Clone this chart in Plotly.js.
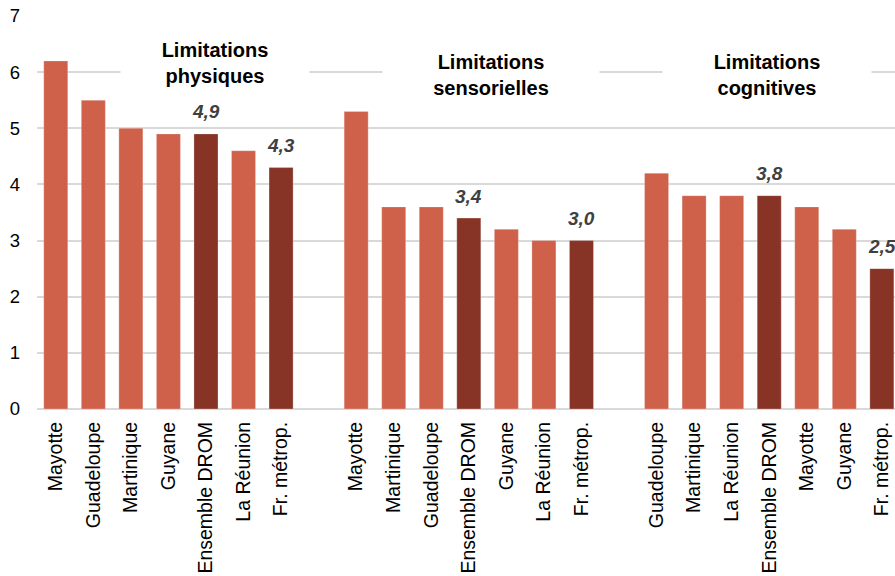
<!DOCTYPE html>
<html>
<head>
<meta charset="utf-8">
<script src="https://cdn.plot.ly/plotly-3.0.1.min.js"></script>
<style>html,body{margin:0;padding:0;background:#fff;}#chart{width:895px;height:576px;}</style>
</head>
<body>
<div id="chart"></div>
<script>
// ---- data ----
const groupTitles = ["Limitations<br>physiques", "Limitations<br>sensorielles", "Limitations<br>cognitives"];
const catsPhys = ["Mayotte", "Guadeloupe", "Martinique", "Guyane", "Ensemble DROM", "La Réunion", "Fr. métrop."];
const valsPhys = [6.2, 5.5, 5.0, 4.9, 4.9, 4.6, 4.3];
const catsSens = ["Mayotte", "Martinique", "Guadeloupe", "Ensemble DROM", "Guyane", "La Réunion", "Fr. métrop."];
const valsSens = [5.3, 3.6, 3.6, 3.4, 3.2, 3.0, 3.0];
const catsCogn = ["Guadeloupe", "Martinique", "La Réunion", "Ensemble DROM", "Mayotte", "Guyane", "Fr. métrop."];
const valsCogn = [4.2, 3.8, 3.8, 3.8, 3.6, 3.2, 2.5];
const highlighted = ["Ensemble DROM", "Fr. métrop."];

// ---- build ----
const groups = [[catsPhys, valsPhys], [catsSens, valsSens], [catsCogn, valsCogn]];
const slotsPerGroup = 8; // 7 bars + one empty slot
const xs = [], ys = [], colors = [], tickvals = [], ticktext = [], labelAnns = [];
const light = "#CF614B", dark = "#873426";
groups.forEach(([cats, vals], g) => {
  cats.forEach((c, i) => {
    const x = g * slotsPerGroup + i;
    xs.push(x); ys.push(vals[i]);
    tickvals.push(x); ticktext.push(c);
    const hl = highlighted.includes(c);
    colors.push(hl ? dark : light);
    if (hl) {
      labelAnns.push({
        x: x, y: vals[i], xref: "x", yref: "y", yshift: 22, showarrow: false,
        text: vals[i].toFixed(1).replace(".", ","),
        font: {family: "Liberation Sans, Arial, sans-serif", size: 19, color: "#404040", weight: "bold", style: "italic"}
      });
    }
  });
});

// group title boxes (layout positions)
const titleX = [4.25, 11.6, 18.95];
const titleY = [6.17, 5.95, 5.95];
const titleW = [188, 216, 208];
const titleAnns = groupTitles.map((t, g) => ({
  x: titleX[g], y: titleY[g], xref: "x", yref: "y", showarrow: false,
  text: t, bgcolor: "#ffffff", width: titleW[g], height: 56, borderpad: 0,
  font: {family: "Liberation Sans, Arial, sans-serif", size: 20, color: "#000000", weight: "bold"}
}));

const trace = {
  type: "bar", x: xs, y: ys, width: 0.64,
  marker: {color: colors, line: {width: 1, color: "rgba(255,255,255,0.25)"}}, hoverinfo: "skip"
};

const layout = {
  width: 895, height: 576,
  margin: {l: 37, r: 0, t: 16, b: 167, pad: 0},
  paper_bgcolor: "#fff", plot_bgcolor: "#fff",
  showlegend: false,
  font: {family: "Liberation Sans, Arial, sans-serif", color: "#000"},
  xaxis: {
    range: [-0.5, 22.35], tickmode: "array", tickvals: tickvals, ticktext: ticktext,
    tickangle: -90, showgrid: false, zeroline: false, showline: false, ticks: "",
    tickfont: {size: 19.5, color: "#000"}, ticklabelstandoff: 8
  },
  yaxis: {
    range: [0, 7], dtick: 1, tick0: 0, showgrid: true, gridcolor: "#d9d9d9", gridwidth: 2,
    zeroline: true, zerolinecolor: "#d9d9d9", zerolinewidth: 2, showline: false, ticks: "",
    tickfont: {size: 18.5, color: "#000"}, ticklabelstandoff: 16
  },
  annotations: titleAnns.concat(labelAnns)
};

Plotly.newPlot("chart", [trace], layout, {displayModeBar: false, staticPlot: true});
</script>
</body>
</html>
